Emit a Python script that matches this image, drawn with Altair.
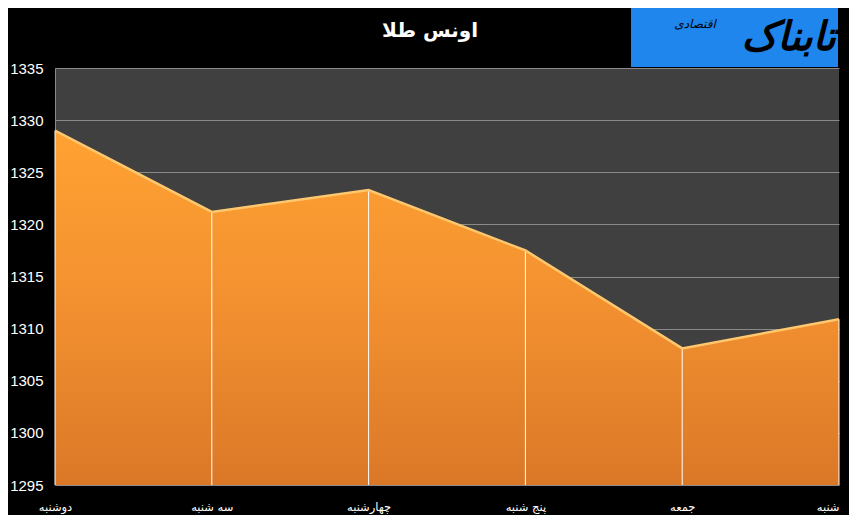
import altair as alt
import pandas as pd

days = ["دوشنبه", "سه شنبه", "چهارشنبه", "پنج شنبه", "جمعه", "شنبه"]
prices = [1329.0, 1321.2, 1323.3, 1317.5, 1308.1, 1310.9]
y_ticks = [1295, 1300, 1305, 1310, 1315, 1320, 1325, 1330, 1335]
title_text = "اونس طلا"
logo_main = "تابناک"
logo_sub = "اقتصادی"

df = pd.DataFrame({"idx": list(range(len(days))), "day": days,
                   "price": prices, "base": [1295] * len(days)})

W, H = 784, 417
last = len(days) - 1

label_expr = "[" + ",".join("'" + d + "'" for d in days) + "][datum.value]"

x = alt.X("idx:Q", scale=alt.Scale(domain=[0, last], nice=False, zero=False),
          axis=alt.Axis(title=None, values=list(range(len(days))), labelExpr=label_expr,
                        labelAngle=0, labelColor="white",
                        labelFont="DejaVu Sans", labelFontSize=11.5,
                        labelPadding=16, ticks=False, domain=False, grid=False,
                        labelAlign={"expr": f"datum.value == {last} ? 'right' : 'center'"},
                        labelOverlap=False, labelFlush=False))
y = alt.Y("price:Q", scale=alt.Scale(domain=[1295, 1335], nice=False, zero=False),
          axis=alt.Axis(title=None, values=y_ticks, format="d", labelColor="white",
                        labelFont="Liberation Sans", labelFontSize=15,
                        labelPadding=12, ticks=False, domain=True,
                        domainColor="#8a8a8a", gridColor="#8a8a8a", gridWidth=1))

base = alt.Chart(df)

area = base.mark_area(
    opacity=1,
    color=alt.Gradient(
        gradient="linear",
        stops=[alt.GradientStop(color="#FFA232", offset=0),
               alt.GradientStop(color="#F29030", offset=0.5),
               alt.GradientStop(color="#DA7828", offset=1)],
        x1=0, x2=0, y1=0, y2=1),
).encode(x=x, y=y, y2=alt.Y2("base:Q"))

edge = base.mark_line(color="#FFC86E", strokeWidth=2.5).encode(
    x=alt.X("idx:Q"), y=alt.Y("price:Q"))

rules = base.mark_rule(color="white", strokeWidth=1).encode(
    x=alt.X("idx:Q"), y=alt.Y("price:Q"), y2=alt.Y2("base:Q"))

title = alt.Chart(pd.DataFrame({"t": [title_text]})).mark_text(
    color="white", font="DejaVu Sans", fontSize=20, fontWeight="bold",
    align="center", baseline="middle").encode(
    text="t:N", x=alt.value(375), y=alt.value(-37))

logo_box = alt.Chart(pd.DataFrame({"t": [logo_main]})).mark_rect(
    color="#1E86EC").encode(
    x=alt.value(576), x2=alt.value(783), y=alt.value(-65), y2=alt.value(-1))

logo_t = alt.Chart(pd.DataFrame({"t": [logo_main]})).mark_text(
    color="black", font="DejaVu Sans", fontSize=40, fontWeight="bold",
    fontStyle="italic", align="right", baseline="middle").encode(
    text="t:N", x=alt.value(781), y=alt.value(-30))

logo_s = alt.Chart(pd.DataFrame({"t": [logo_sub]})).mark_text(
    color="black", font="DejaVu Sans", fontSize=12, fontStyle="italic",
    align="center", baseline="middle").encode(
    text="t:N", x=alt.value(640), y=alt.value(-44))

chart = alt.layer(area, rules, edge, title, logo_box, logo_t, logo_s).properties(
    width=W, height=H, background="black",
    autosize=alt.AutoSizeParams(type="none"),
    padding={"left": 47, "top": 60, "right": 10, "bottom": 30},
).configure_view(fill="#404040", stroke=None)

chart.save("out.html", embed_options={"renderer": "svg", "actions": False})
